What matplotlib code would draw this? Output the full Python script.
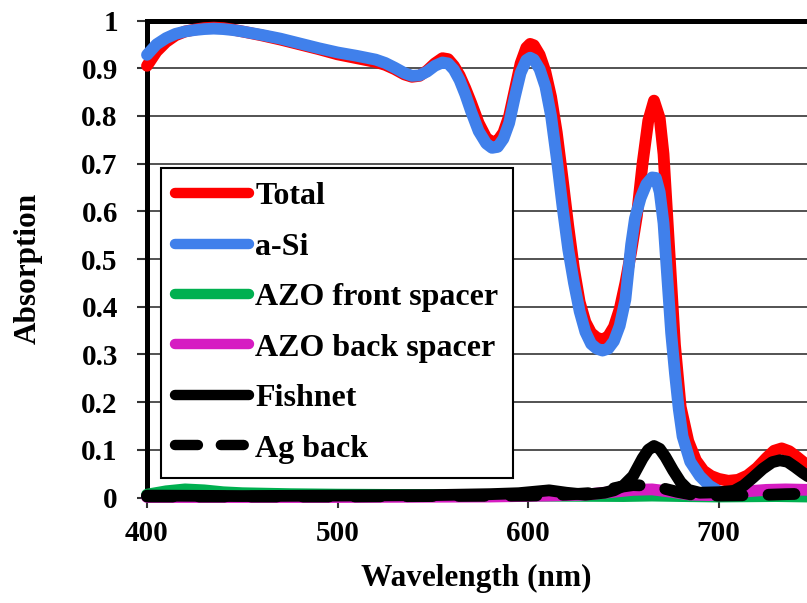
import matplotlib
matplotlib.use("Agg")
import matplotlib.pyplot as plt

# ---------------- data ----------------
wl_total = [400, 405, 410, 415, 420, 425, 430, 435, 440, 445, 450, 460, 470, 480, 490,
            500, 510, 520, 525, 530, 535, 539, 543, 547, 551, 555, 558, 561, 564, 567,
            570, 574, 578, 581, 584, 587, 590, 593, 596, 599, 601, 603, 606, 609, 612,
            615, 618, 621, 624, 627, 630, 633, 636, 639, 642, 645, 648, 651, 654, 657,
            660, 663, 666, 669, 671, 674, 677, 680, 684, 688, 692, 696, 700, 705, 710,
            715, 720, 725, 729, 733, 737, 741, 745, 747]
total = [0.905, 0.935, 0.955, 0.969, 0.977, 0.981, 0.984, 0.985, 0.984, 0.981,
         0.977, 0.969, 0.960, 0.950, 0.940, 0.929, 0.921, 0.913, 0.907, 0.898,
         0.887, 0.882, 0.884, 0.895, 0.910, 0.921, 0.919, 0.905, 0.885, 0.858,
         0.828, 0.785, 0.754, 0.745, 0.748, 0.765, 0.800, 0.855, 0.910, 0.943,
         0.951, 0.948, 0.928, 0.893, 0.840, 0.765, 0.670, 0.570, 0.480, 0.410,
         0.368, 0.345, 0.335, 0.331, 0.338, 0.358, 0.395, 0.450, 0.515, 0.590,
         0.700, 0.790, 0.832, 0.795, 0.720, 0.520, 0.320, 0.190, 0.118, 0.078,
         0.056, 0.045, 0.039, 0.035, 0.037, 0.046, 0.062, 0.083, 0.098, 0.103,
         0.097, 0.085, 0.072, 0.065]

wl_asi = [400, 405, 410, 415, 420, 425, 430, 435, 440, 445, 450, 460, 470, 480, 490,
          500, 510, 520, 525, 530, 535, 539, 543, 547, 551, 555, 558, 561, 564, 567,
          570, 574, 578, 581, 584, 587, 590, 593, 596, 599, 601, 603, 606, 609, 612,
          615, 618, 621, 624, 627, 630, 633, 636, 639, 642, 645, 648, 651, 654, 656,
          659, 662, 665, 667, 669, 671, 673, 675, 677, 679, 681, 685, 690, 695, 700,
          705, 715, 730, 747]
a_si = [0.928, 0.950, 0.963, 0.972, 0.977, 0.980, 0.982, 0.983, 0.982, 0.980,
        0.977, 0.970, 0.962, 0.952, 0.942, 0.933, 0.926, 0.918, 0.911, 0.901,
        0.890, 0.884, 0.885, 0.893, 0.905, 0.912, 0.910, 0.897, 0.875, 0.845,
        0.810, 0.768, 0.742, 0.733, 0.735, 0.752, 0.785, 0.840, 0.890, 0.917,
        0.922, 0.918, 0.898, 0.862, 0.800, 0.710, 0.610, 0.520, 0.450, 0.390,
        0.347, 0.322, 0.312, 0.308, 0.312, 0.328, 0.360, 0.415, 0.530, 0.585,
        0.628, 0.657, 0.671, 0.670, 0.640, 0.575, 0.460, 0.345, 0.260, 0.185,
        0.128, 0.075, 0.045, 0.025, 0.013, 0.007, 0.005, 0.007, 0.006]

wl_front = [400, 410, 420, 430, 440, 450, 475, 500, 550, 600, 650, 665, 680, 700, 730, 747]
azo_front = [0.006, 0.013, 0.017, 0.015, 0.011, 0.009, 0.007, 0.006, 0.005, 0.004,
             0.003, 0.004, 0.003, 0.002, 0.003, 0.002]

wl_back = [400, 500, 580, 610, 630, 645, 655, 665, 675, 685, 695, 705, 715, 725, 735, 747]
azo_back = [0.001, 0.001, 0.002, 0.004, 0.006, 0.012, 0.016, 0.017, 0.012, 0.006,
            0.005, 0.008, 0.013, 0.016, 0.017, 0.016]

wl_fish = [400, 450, 500, 550, 580, 595, 603, 611, 620, 630, 640, 645, 650, 655, 660,
           663, 666, 669, 672, 676, 680, 684, 690, 700, 708, 713, 718, 723, 728, 732,
           736, 740, 744, 747]
fishnet = [0.004, 0.003, 0.004, 0.005, 0.007, 0.009, 0.012, 0.015, 0.010, 0.006,
           0.010, 0.015, 0.025, 0.045, 0.082, 0.100, 0.108, 0.102, 0.085, 0.057,
           0.032, 0.016, 0.010, 0.011, 0.014, 0.025, 0.042, 0.060, 0.074, 0.078,
           0.075, 0.064, 0.052, 0.044]

wl_ag = [400, 450, 500, 550, 600, 620, 635, 640, 648, 655, 662, 670, 678, 686, 700,
         720, 735, 747]
ag_back = [0.002, 0.002, 0.002, 0.003, 0.004, 0.006, 0.010, 0.015, 0.022, 0.026,
           0.025, 0.020, 0.012, 0.006, 0.004, 0.005, 0.007, 0.008]

labels = ["Total", "a-Si", "AZO front spacer", "AZO back spacer", "Fishnet", "Ag back"]
x_ticks = [400, 500, 600, 700]
y_ticks = [0, 0.1, 0.2, 0.3, 0.4, 0.5, 0.6, 0.7, 0.8, 0.9, 1.0]
y_tick_labels = ["0", "0.1", "0.2", "0.3", "0.4", "0.5", "0.6", "0.7", "0.8", "0.9", "1"]

# ---------------- style ----------------
plt.rcParams['font.family'] = ['Liberation Serif', 'DejaVu Serif']
plt.rcParams['font.weight'] = 'bold'

W, H = 807, 603
fig = plt.figure(figsize=(W / 100, H / 100), dpi=100)
ax = fig.add_axes([147 / W, (H - 497.5) / H, 660 / W, 477 / H])

lw = 8.5
common = dict(solid_capstyle='round', solid_joinstyle='round', clip_on=False)
ax.plot(wl_total, total, color='#FF0000', lw=lw, label=labels[0], zorder=3, **common)
ax.plot(wl_asi, a_si, color='#4080EB', lw=lw, label=labels[1], zorder=4, **common)
ax.plot(wl_front, azo_front, color='#00B050', lw=lw, label=labels[2], zorder=5, **common)
ax.plot(wl_back, azo_back, color='#D61CC2', lw=lw, label=labels[3], zorder=6, **common)
ax.plot(wl_fish, fishnet, color='black', lw=lw, label=labels[4], zorder=7, **common)
ax.plot(wl_ag, ag_back, color='black', lw=lw, label=labels[5], zorder=8,
        linestyle=(0, (2.2, 2.2)), dash_capstyle='round', clip_on=False)

ax.set_xlim(400, 400 + 660 / 1.906)
ax.set_ylim(0, 1)
ax.set_xticks(x_ticks)
ax.set_yticks(y_ticks)
ax.set_yticklabels(y_tick_labels)

ax.grid(axis='y', color='#444444', lw=1.3, zorder=1)
ax.set_axisbelow(True)

for s in ['left', 'top', 'bottom']:
    ax.spines[s].set_linewidth(3.6)
    ax.spines[s].set_color('black')
ax.spines['right'].set_visible(False)

ax.tick_params(axis='both', direction='out', length=7, width=1.5, color='#333333',
               labelsize=21)
ax.tick_params(axis='y', pad=14)
ax.tick_params(axis='x', pad=9)
for t in ax.get_xticklabels() + ax.get_yticklabels():
    t.set_fontweight('bold')

fig.text(28 / W, 1 - 268 / H, 'Absorption', rotation=90, ha='center', va='center',
         fontsize=22.5, fontweight='bold')
fig.text(476 / W, 1 - 578 / H, 'Wavelength (nm)', ha='center', va='center',
         fontsize=22.5, fontweight='bold')

leg = ax.legend(loc='lower left', bbox_to_anchor=(0.021, 0.041), borderaxespad=0,
                prop={'family': 'Liberation Serif', 'weight': 'bold', 'size': 23},
                handlelength=2.3, handletextpad=0.2, labelspacing=0.66,
                borderpad=0.45, fancybox=False, framealpha=1, edgecolor='black')
leg.get_frame().set_linewidth(1.5)
leg.set_zorder(10)
for h in leg.get_lines():
    h.set_linewidth(7.5)

fig.savefig('out.png', dpi=100)
